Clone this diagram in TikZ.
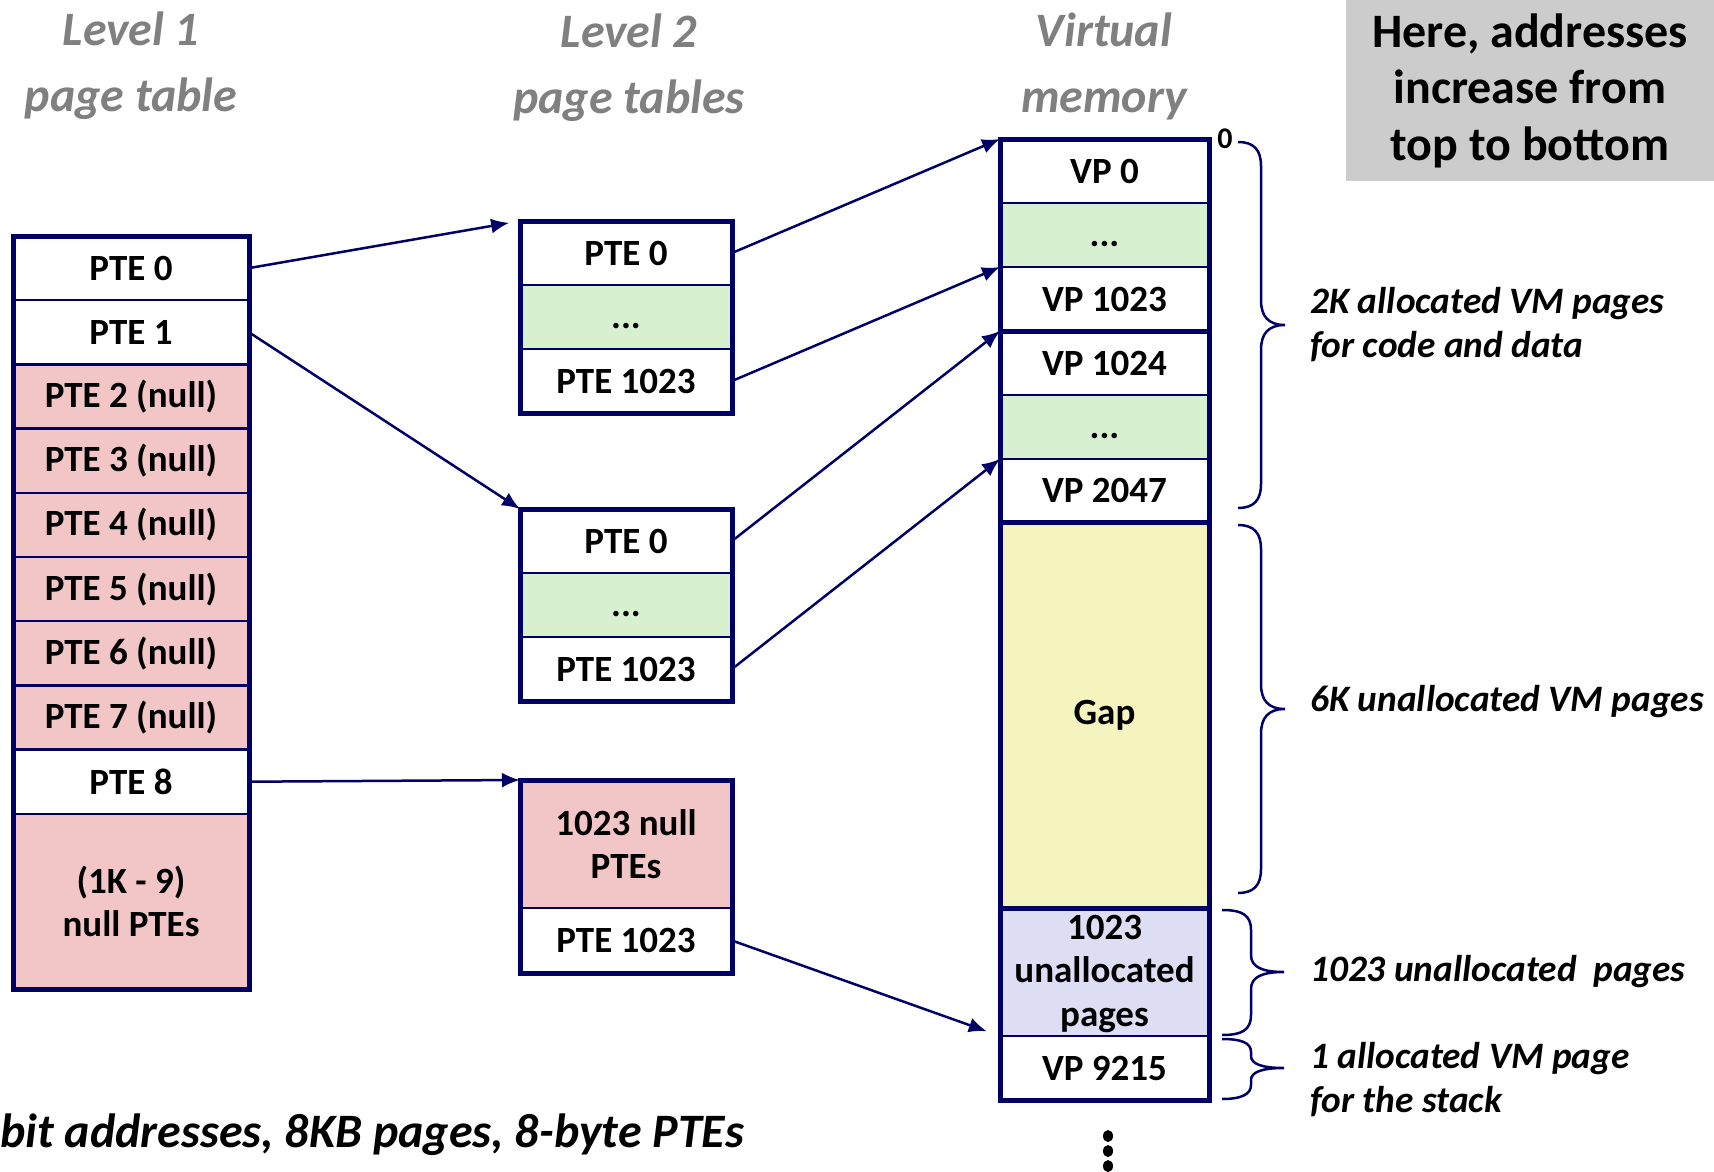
\documentclass[tikz,border=0pt]{standalone}
\usepackage{fontspec}
\setmainfont{Carlito}
\usetikzlibrary{arrows.meta,calc}
\definecolor{navy}{RGB}{0,0,102}
\definecolor{pinkc}{RGB}{242,198,198}
\definecolor{greenc}{RGB}{214,240,208}
\definecolor{yellowc}{RGB}{246,244,190}
\definecolor{lavc}{RGB}{221,221,243}
\definecolor{grayboxc}{RGB}{204,204,204}
\definecolor{titlec}{RGB}{128,128,128}
\newcommand\cellfont{\bfseries\fontsize{37}{43.5}\selectfont}
\newcommand\titlefont{\bfseries\itshape\fontsize{48}{66}\selectfont}
\newcommand\notefont{\bfseries\fontsize{48}{56.5}\selectfont}
\newcommand\lblfont{\bfseries\itshape\fontsize{37.3}{44}\selectfont}
\newcommand\celldots{\vphantom{PTE}...}
\begin{document}
\begin{tikzpicture}[x=1pt,y=-1pt,
  cell/.style={draw=navy, line width=2.5pt, inner sep=0pt, outer sep=0pt,
    minimum height=#1, font=\cellfont, align=center, text=black},
  cell/.default=64pt,
  lone/.style={cell=#1, minimum width=236pt}, lone/.default=64.2pt,
  ltwo/.style={cell=#1, minimum width=212pt}, ltwo/.default=64pt,
  vmc/.style={cell=#1, minimum width=209pt}, vmc/.default=64pt,
  outerbox/.style={draw=navy, line width=5pt},
  arr/.style={draw=navy, line width=2.5pt, -{Latex[length=18pt,width=15pt]}},
  brace/.style={draw=navy, line width=2.5pt},
  title/.style={font=\titlefont, text=titlec, align=center, inner sep=0pt},
  lbl/.style={font=\lblfont, align=left, anchor=west, inner sep=0pt}]
\useasboundingbox (0,0) rectangle (1714,1172);

% titles
\node[title] (t1) at (131,66) {Level 1\\page table};
\node[title] (t2) at (629,68) {Level 2\\page tables};
\node[title] (t3) at (1104,66) {Virtual\\memory};

% note box
\node[fill=grayboxc, minimum width=368pt, minimum height=181pt, inner sep=0pt,
  font=\notefont, align=center] (note) at (1530,90.5) {Here, addresses\\increase from\\top to bottom};

% level 1 table
\node[lone, fill=white] (l1r0) at (131,268.1) {PTE 0};
\node[lone, fill=white] (l1r1) at (131,332.3) {PTE 1};
\node[lone, fill=pinkc] (l1r2) at (131,396.5) {PTE 2 (null)};
\node[lone, fill=pinkc] (l1r3) at (131,460.7) {PTE 3 (null)};
\node[lone, fill=pinkc] (l1r4) at (131,524.9) {PTE 4 (null)};
\node[lone, fill=pinkc] (l1r5) at (131,589.1) {PTE 5 (null)};
\node[lone, fill=pinkc] (l1r6) at (131,653.3) {PTE 6 (null)};
\node[lone, fill=pinkc] (l1r7) at (131,717.5) {PTE 7 (null)};
\node[lone, fill=white] (l1r8) at (131,781.7) {PTE 8};
\node[lone=175.2pt, fill=pinkc] (l1r9) at (131,901.4) {(1K - 9)\\null PTEs};
\draw[outerbox] (l1r0.north west) rectangle (l1r9.south east);

% level 2 tables
\node[ltwo, fill=white] (l2a0) at (626,253) {PTE 0};
\node[ltwo, fill=greenc] (l2a1) at (626,317) {\celldots};
\node[ltwo, fill=white] (l2a2) at (626,381) {PTE 1023};
\draw[outerbox] (l2a0.north west) rectangle (l2a2.south east);

\node[ltwo, fill=white] (l2b0) at (626,541) {PTE 0};
\node[ltwo, fill=greenc] (l2b1) at (626,605) {\celldots};
\node[ltwo, fill=white] (l2b2) at (626,669) {PTE 1023};
\draw[outerbox] (l2b0.north west) rectangle (l2b2.south east);

\node[ltwo=128pt, fill=pinkc] (l2c0) at (626,844) {1023 null\\PTEs};
\node[ltwo=65pt, fill=white] (l2c1) at (626,940.5) {PTE 1023};
\draw[outerbox] (l2c0.north west) rectangle (l2c1.south east);

% virtual memory
\node[vmc, fill=white] (vm0) at (1104.5,171) {VP 0};
\node[vmc, fill=greenc] (vm1) at (1104.5,235) {\celldots};
\node[vmc, fill=white] (vm2) at (1104.5,299) {VP 1023};
\draw[outerbox] (vm0.north west) rectangle (vm2.south east);
\node[vmc, fill=white] (vm3) at (1104.5,363) {VP 1024};
\node[vmc, fill=greenc] (vm4) at (1104.5,427) {\celldots};
\node[vmc=63pt, fill=white] (vm5) at (1104.5,490.5) {VP 2047};
\draw[outerbox] (vm3.north west) rectangle (vm5.south east);
\node[vmc=386pt, fill=yellowc] (gap) at (1104.5,715) {\vphantom{PT}Gap};
\draw[outerbox] (gap.north west) rectangle (gap.south east);
\node[vmc=128pt, fill=lavc] (un) at (1104.5,972) {\vphantom{(}1023\\unallocated\\pages\vphantom{g}\rule[-4pt]{0pt}{1pt}};
\node[vmc, fill=white] (vmS) at (1104.5,1068) {VP 9215};
\draw[outerbox] (un.north west) rectangle (vmS.south east);

\node[font=\bfseries\fontsize{30}{34}\selectfont, inner sep=0pt] (zero) at (1225,139) {0};

% continuation dots
\fill[black] (1108,1136) ellipse (5 and 6);
\fill[black] (1108,1151) ellipse (5 and 6);
\fill[black] (1108,1166) ellipse (5 and 6);

% arrows
\draw[arr, shorten >=11pt] (l1r0.east) -- (l2a0.north west);
\draw[arr] (l1r1.east) -- (l2b0.north west);
\draw[arr] (l1r8.east) -- (l2c0.north west);
\draw[arr] (l2a0.east) -- (vm0.north west);
\draw[arr] (l2a2.east) -- (vm2.north west);
\draw[arr] (l2b0.east) -- (vm3.north west);
\draw[arr] (l2b2.east) -- (vm5.north west);
\draw[arr, shorten >=14pt] (l2c1.east) -- (vmS.north west);

% braces
\draw[brace] (1238,142) .. controls (1254,142) and (1261,150) .. (1261,166)
  -- (1261,300) .. controls (1261,316) and (1268,325) .. (1285,325)
  .. controls (1268,325) and (1261,334) .. (1261,350)
  -- (1261,484) .. controls (1261,500) and (1254,508) .. (1238,508);
\draw[brace] (1238,525) .. controls (1254,525) and (1261,533) .. (1261,549)
  -- (1261,684) .. controls (1261,700) and (1268,709) .. (1285,709)
  .. controls (1268,709) and (1261,718) .. (1261,734)
  -- (1261,869) .. controls (1261,885) and (1254,893) .. (1238,893);
\draw[brace] (1222,910) .. controls (1242,910) and (1251,915) .. (1251,930)
  -- (1251,955) .. controls (1251,967) and (1262,972) .. (1284,972)
  .. controls (1262,972) and (1251,977) .. (1251,989)
  -- (1251,1015) .. controls (1251,1030) and (1242,1035) .. (1222,1035);
\draw[brace] (1222,1039) .. controls (1242,1039) and (1251,1043) .. (1251,1052)
  -- (1251,1056) .. controls (1251,1064) and (1262,1068) .. (1284,1068)
  .. controls (1262,1068) and (1251,1072) .. (1251,1080)
  -- (1251,1085) .. controls (1251,1094) and (1242,1099) .. (1222,1099);

% brace labels
\node[lbl] (lab1) at (1310,325) {2K allocated VM pages\\for code and data};
\node[lbl] (lab2) at (1310,702) {6K unallocated VM pages};
\node[lbl] (lab3) at (1310,972) {1023 unallocated\ \ pages};
\node[lbl] (lab4) at (1310,1080) {1 allocated VM page\\for the stack};

% bottom caption
\node[font=\bfseries\itshape\fontsize{48}{54}\selectfont, anchor=west, inner sep=0pt] (cap) at (0,1135) {bit addresses, 8KB pages, 8-byte PTEs};
\end{tikzpicture}
\end{document}
